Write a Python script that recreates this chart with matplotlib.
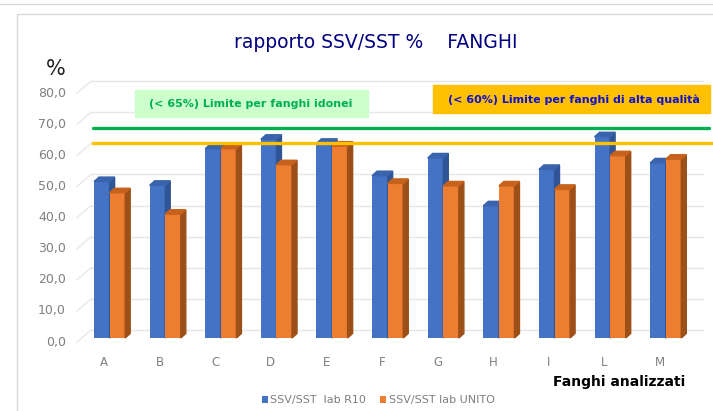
import matplotlib.pyplot as plt
from matplotlib.patches import Polygon, Rectangle
from matplotlib.lines import Line2D

# data
categories = ['A', 'B', 'C', 'D', 'E', 'F', 'G', 'H', 'I', 'L', 'M']
r10 = [50.3, 49.1, 60.9, 63.9, 62.6, 52.2, 57.9, 42.5, 54.2, 64.7, 56.3]
unito = [46.7, 39.8, 60.9, 55.7, 61.7, 49.7, 48.9, 48.9, 47.8, 58.6, 57.5]
series_names = ['SSV/SST  lab R10', 'SSV/SST lab UNITO']
yticks = [0, 10, 20, 30, 40, 50, 60, 70, 80]
limit_idonei = 65
limit_alta = 60

W, H = 713, 411
NARROW = ['DejaVu Sans']

def px(x, y):
    return (x / W, 1 - y / H)

fig = plt.figure(figsize=(W / 100, H / 100), dpi=100)

# frame of the pasted chart
fig.add_artist(Line2D([0, 1], [1 - 4 / H, 1 - 4 / H], transform=fig.transFigure, color='#d9d9d9', lw=1))
fig.add_artist(Rectangle(px(17, 420), 720 / W, 406 / H, transform=fig.transFigure,
                         fill=False, edgecolor='#d9d9d9', lw=1))

# axes placed so that the back wall maps 0 -> 330px, 80 -> 81px
ppu = 3.11
y0 = 330
ylo, yhi = -4, 84
xl, xr = -0.5, 10.76
pitch = 55.6
ax = fig.add_axes([81.8 / W, (H - (y0 + (-ylo) * ppu)) / H, (708 - 81.8) / W, (yhi - ylo) * ppu / H])
ax.set_xlim(xl, xr)
ax.set_ylim(ylo, yhi)
ax.axis('off')

depth_y = 12 / ppu      # label / front offset below the back wall
gx0 = (91 - 109.6) / pitch
gx1 = (703 - 109.6) / pitch
for t in yticks:
    ax.plot([gx0, gx1], [t, t], color='#e6e6e6', lw=1.0, zorder=0)
    ax.plot([(77 - 109.6) / pitch, gx0], [t - depth_y, t], color='#e8e8e8', lw=1, zorder=0, clip_on=False)
    ax.text((66 - 109.6) / pitch, t - depth_y, f'{t:.1f}'.replace('.', ','), ha='right', va='center',
            fontsize=9, color='#7f7f7f', family=NARROW, clip_on=False)

# 3d-looking bars
bw = 0.28
base = -8 / ppu
dx = 5 / pitch
dy = 4.5 / ppu
styles = [('#4472c4', '#2f5597', '#3a63ad'), ('#ed7d31', '#9c4f17', '#c7621c')]
handles = []
for k, vals in enumerate([r10, unito]):
    front, side, top = styles[k]
    xs = [i - bw + k * bw for i in range(len(categories))]
    bars = ax.bar(xs, vals, width=bw, bottom=base, align='edge', color=front, zorder=2 + k * 2,
                  label=series_names[k])
    handles.append(bars)
    for x, v in zip(xs, vals):
        t = base + v
        ax.add_patch(Polygon([(x + bw, base), (x + bw + dx, base + dy), (x + bw + dx, t + dy), (x + bw, t)],
                             closed=True, color=side, zorder=2 + k * 2))
        ax.add_patch(Polygon([(x, t), (x + bw, t), (x + bw + dx, t + dy), (x + dx, t + dy)],
                             closed=True, color=top, zorder=2 + k * 2))

for i, c in enumerate(categories):
    ax.text(i - 0.1, -10.3, c, ha='center', va='center', fontsize=8.5, color='#7f7f7f', family=NARROW,
            clip_on=False)

# limit lines
ax.plot([(93 - 109.6) / pitch, (709 - 109.6) / pitch], [limit_idonei, limit_idonei],
        color='#00b050', lw=2.4, zorder=6, clip_on=False, solid_capstyle='round')
ax.plot([(93 - 109.6) / pitch, (713 - 109.6) / pitch], [limit_alta, limit_alta],
        color='#ffc000', lw=2.4, zorder=6, clip_on=False)

# boxes with the limit notes
fig.add_artist(Rectangle(px(135, 117), (368 - 135) / W, 27 / H, transform=fig.transFigure,
                         color='#ccffcc', zorder=5))
fig.text(251 / W, 1 - 104 / H, '(< 65%) Limite per fanghi idonei', ha='center', va='center',
         fontsize=8, fontweight='bold', color='#00b050', family=NARROW, zorder=7)
fig.add_artist(Rectangle(px(433, 113), (710 - 433) / W, 28 / H, transform=fig.transFigure,
                         color='#ffc000', zorder=5))
fig.text(574 / W, 1 - 100 / H, "(< 60%) Limite per fanghi di alta qualità", ha='center', va='center',
         fontsize=8, fontweight='bold', color='#1010d0', family=NARROW, zorder=7)

fig.text(376 / W, 1 - 42 / H, 'rapporto SSV/SST %    FANGHI', ha='center', va='center',
         fontsize=13.5, color='#000080', family=NARROW)
fig.text(56 / W, 1 - 69 / H, '%', ha='center', va='center', fontsize=15, color='#222222')
fig.text(619 / W, 1 - 382 / H, 'Fanghi analizzati', ha='center', va='center', fontsize=10,
         fontweight='bold', color='black')

fig.legend(handles=handles, labels=series_names, loc='center', bbox_to_anchor=(378 / W, 1 - 400 / H),
           ncol=2, frameon=False, labelcolor='#7f7f7f', handlelength=0.6, handleheight=0.6,
           handletextpad=0.2, columnspacing=1.2, prop={'family': NARROW, 'size': 8})

fig.savefig('out.png', dpi=100)
